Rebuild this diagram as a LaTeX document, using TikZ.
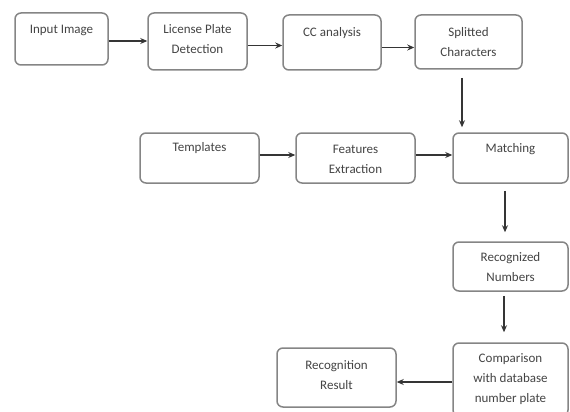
\documentclass[tikz,border=0pt]{standalone}
\usepackage{fontspec}
\setmainfont{Carlito}
\usetikzlibrary{arrows.meta}
\definecolor{boxline}{HTML}{858585}
\definecolor{txt}{HTML}{444444}
\definecolor{arrline}{HTML}{353535}
\begin{document}
\begin{tikzpicture}[x=1pt,y=-1pt,
  box/.style={draw=boxline,line width=1.5pt,rounded corners=6pt,fill=white,inner sep=0pt},
  lbl/.style={text=txt,font=\fontsize{13}{20}\selectfont,align=center,inner sep=0pt},
  arr/.style={draw=arrline,line width=1.1pt,-{Stealth[length=7pt,width=6pt]}}]
\useasboundingbox (0,0) rectangle (570,412);
% boxes
\node[box,minimum width=93pt,minimum height=52pt] (in) at (61.5,39) {};
\node[box,minimum width=99pt,minimum height=57pt] (lpd) at (197.5,41.5) {};
\node[box,minimum width=98pt,minimum height=55pt] (cc) at (332,42.5) {};
\node[box,minimum width=107pt,minimum height=54pt] (sp) at (468.5,42) {};
\node[box,minimum width=119pt,minimum height=50pt] (tpl) at (199.5,158) {};
\node[box,minimum width=119pt,minimum height=50pt] (fe) at (355.5,158) {};
\node[box,minimum width=115pt,minimum height=50pt] (mt) at (510.5,158) {};
\node[box,minimum width=115pt,minimum height=49pt] (rn) at (510.5,266.5) {};
\node[box,minimum width=115pt,minimum height=73pt] (cmp) at (510.5,379.5) {};
\node[box,minimum width=119pt,minimum height=59pt] (rr) at (336.5,377.5) {};
% texts
\node[lbl] (tin) at (61.5,30) {Input Image};
\node[lbl] (tlpd) at (197.5,39) {License Plate\\Detection};
\node[lbl] (tcc) at (332,33) {CC analysis};
\node[lbl] (tsp) at (468.5,42.5) {Splitted\\Characters};
\node[lbl] (ttpl) at (199.5,148) {Templates};
\node[lbl] (tfe) at (355.5,159) {Features\\Extraction};
\node[lbl] (tmt) at (510.5,149) {Matching};
\node[lbl] (trn) at (510.5,267) {Recognized\\Numbers};
\node[lbl] (tcmp) at (510.5,379.5) {Comparison\\with database\\number plate};
\node[lbl] (trr) at (336.5,375.5) {Recognition\\Result};
% arrows
\draw[arr] ([yshift=-2pt]in.east) -- ([yshift=-2pt]in.east -| lpd.west);
\draw[arr] ([yshift=-4pt]lpd.east) -- ([yshift=-4pt]lpd.east -| cc.west);
\draw[arr] ([yshift=-5pt]cc.east) -- ([yshift=-5pt]cc.east -| sp.west);
\draw[arr,shorten <=8pt,shorten >=5pt] ([xshift=-6.5pt]sp.south) -- ([xshift=-6.5pt]sp.south |- mt.north);
\draw[arr] ([yshift=3pt]tpl.east) -- ([yshift=3pt]tpl.east -| fe.west);
\draw[arr] ([yshift=3pt]fe.east) -- ([yshift=3pt]fe.east -| mt.west);
\draw[arr,shorten <=7pt,shorten >=9pt] ([xshift=-5.5pt]mt.south) -- ([xshift=-5.5pt]mt.south |- rn.north);
\draw[arr,shorten <=4pt,shorten >=10pt] ([xshift=-6.5pt]rn.south) -- ([xshift=-6.5pt]rn.south |- cmp.north);
\draw[arr] ([yshift=-2.5pt]cmp.west) -- ([yshift=-2.5pt]cmp.west -| rr.east);
\end{tikzpicture}
\end{document}
